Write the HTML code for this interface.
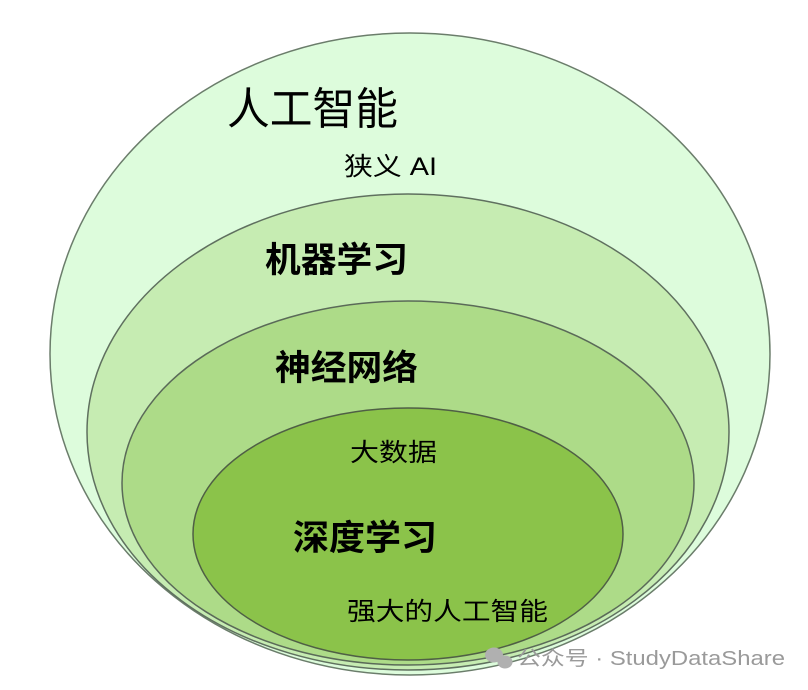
<!DOCTYPE html>
<html><head><meta charset="utf-8"><style>
html,body{margin:0;padding:0;background:#fff;}
svg{display:block;}
text{font-family:"Liberation Sans","Noto Sans CJK SC",sans-serif;}
</style></head><body>
<svg width="808" height="690" viewBox="0 0 808 690" xmlns="http://www.w3.org/2000/svg">
<rect width="808" height="690" fill="#fff"/>
<ellipse cx="410" cy="354" rx="360" ry="321" fill="#ddfcdc" stroke="#6b7d6b" stroke-width="1.5"/>
<ellipse cx="408" cy="432" rx="321" ry="238" fill="#c6ecb2" stroke="#5f705f" stroke-width="1.5"/>
<ellipse cx="408" cy="483" rx="286" ry="182" fill="#addb88" stroke="#5a6a58" stroke-width="1.5"/>
<ellipse cx="408" cy="534" rx="215" ry="126" fill="#8bc34a" stroke="#4f5f45" stroke-width="1.5"/>
<text x="227" y="124" font-size="44" fill="#000" textLength="171" lengthAdjust="spacingAndGlyphs">人工智能</text>
<text x="344" y="175" font-size="25" fill="#000" textLength="93" lengthAdjust="spacingAndGlyphs">狭义 AI</text>
<text x="265" y="272" font-size="35" font-weight="bold" fill="#000" textLength="143" lengthAdjust="spacingAndGlyphs">机器学习</text>
<text x="275" y="380" font-size="35" font-weight="bold" fill="#000" textLength="143" lengthAdjust="spacingAndGlyphs">神经网络</text>
<text x="350" y="461" font-size="25" fill="#000" textLength="87" lengthAdjust="spacingAndGlyphs">大数据</text>
<text x="293" y="550" font-size="35" font-weight="bold" fill="#000" textLength="144" lengthAdjust="spacingAndGlyphs">深度学习</text>
<text x="347" y="620" font-size="25" fill="#000" textLength="201" lengthAdjust="spacingAndGlyphs">强大的人工智能</text>
<g fill="#b0b0b0">
<ellipse cx="494" cy="655" rx="9" ry="7.5"/>
<ellipse cx="505" cy="662" rx="7.5" ry="6.5"/>
</g>
<text x="517" y="665" font-size="20" fill="#9a9a9a" textLength="268" lengthAdjust="spacingAndGlyphs">公众号 · StudyDataShare</text>
</svg>
</body></html>
